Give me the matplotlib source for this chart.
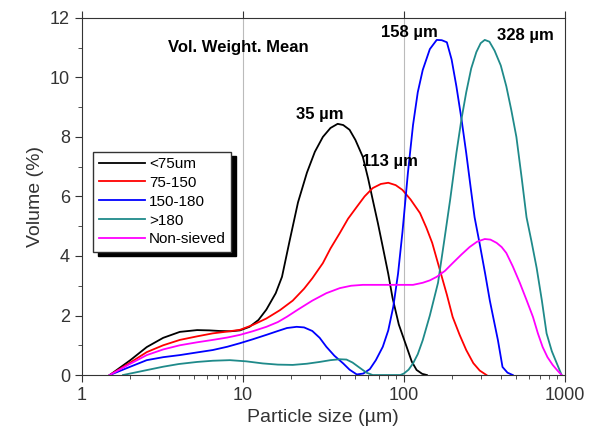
import matplotlib.pyplot as plt
from matplotlib.ticker import LogLocator, NullFormatter, MultipleLocator

plt.rcParams['font.family'] = ['Liberation Sans', 'DejaVu Sans']

# particle size distributions (size in um, volume %)
lt75_x = [1.49, 2.0, 2.53, 3.2, 4.06, 5.2, 6.2, 7.2, 8.4, 9.6, 11.0, 12.5, 14, 16, 17.5, 19.5, 22, 25, 28, 31.4, 35, 38.8, 42, 46, 50, 55.6, 60, 64, 69, 74, 80, 85, 93, 104, 112, 120, 130, 139]
lt75_y = [0, 0.5, 0.94, 1.25, 1.45, 1.51, 1.5, 1.48, 1.47, 1.5, 1.62, 1.85, 2.2, 2.75, 3.3, 4.5, 5.8, 6.8, 7.5, 8.0, 8.3, 8.44, 8.4, 8.24, 7.9, 7.33, 6.6, 5.9, 5.1, 4.3, 3.4, 2.6, 1.7, 0.95, 0.45, 0.17, 0.04, 0]

r75_x = [1.49, 2.0, 2.53, 3.2, 4.06, 5.2, 6.5, 8.0, 9.6, 11.5, 14, 17, 20.4, 24, 27, 31.4, 35, 40, 45, 51, 57, 64, 72, 80, 89, 98, 110, 126, 138, 150, 168, 185, 201, 222, 244, 270, 296, 326]
r75_y = [0, 0.42, 0.77, 1.0, 1.18, 1.3, 1.4, 1.46, 1.52, 1.68, 1.9, 2.18, 2.5, 2.9, 3.25, 3.76, 4.25, 4.77, 5.25, 5.65, 6.0, 6.28, 6.42, 6.46, 6.38, 6.22, 5.9, 5.44, 4.95, 4.44, 3.5, 2.7, 1.95, 1.35, 0.84, 0.4, 0.15, 0]

r150_x = [1.49, 2.0, 2.53, 3.2, 4.06, 5.2, 6.5, 8.0, 9.6, 11.5, 14, 16.5, 18.8, 21.6, 24, 27, 30, 33, 37, 42, 46, 51, 56, 61.5, 67, 74, 80, 86, 92, 98, 106, 114, 122, 131, 145, 160, 172, 185, 198, 212, 228, 244, 260, 275, 296, 320, 342, 365, 384, 410, 440, 475]
r150_y = [0, 0.28, 0.5, 0.6, 0.67, 0.76, 0.84, 0.95, 1.07, 1.2, 1.35, 1.48, 1.58, 1.62, 1.6, 1.48, 1.25, 0.95, 0.65, 0.39, 0.18, 0.02, 0.05, 0.2, 0.5, 0.95, 1.5, 2.3, 3.4, 4.8, 6.8, 8.4, 9.5, 10.25, 10.95, 11.26, 11.25, 11.18, 10.6, 9.7, 8.6, 7.46, 6.3, 5.3, 4.4, 3.4, 2.5, 1.75, 1.17, 0.27, 0.08, 0]

gt180_x = [1.8, 2.4, 3.2, 4.0, 5.2, 6.5, 8.3, 10.5, 13.3, 16.5, 20.4, 25, 30, 35, 40, 44, 48, 53, 58.6, 64, 80, 95, 100, 107, 114, 122, 131, 145, 163, 178, 194, 212, 228, 244, 262, 282, 300, 318, 340, 366, 400, 433, 465, 500, 540, 578, 620, 668, 720, 770, 830, 890, 955]
gt180_y = [0, 0.14, 0.28, 0.37, 0.44, 0.48, 0.5, 0.46, 0.39, 0.35, 0.34, 0.38, 0.44, 0.5, 0.53, 0.52, 0.42, 0.25, 0.08, 0, 0, 0, 0.05, 0.18, 0.39, 0.7, 1.17, 2.0, 3.1, 4.5, 5.9, 7.46, 8.6, 9.5, 10.3, 10.85, 11.15, 11.26, 11.2, 10.9, 10.4, 9.7, 8.9, 8.0, 6.6, 5.3, 4.5, 3.6, 2.5, 1.4, 0.8, 0.4, 0]

nons_x = [1.49, 2.0, 2.53, 3.2, 4.06, 5.2, 6.5, 8.0, 9.6, 11.5, 14, 16.5, 18.8, 22, 27, 33, 40, 47, 55.6, 71, 90, 114, 131, 145, 160, 180, 201, 228, 256, 285, 318, 345, 377, 405, 433, 475, 525, 580, 634, 680, 728, 780, 840, 900, 955]
nons_y = [0, 0.38, 0.67, 0.86, 1.0, 1.1, 1.18, 1.26, 1.35, 1.47, 1.62, 1.78, 1.96, 2.2, 2.5, 2.75, 2.92, 3.0, 3.03, 3.03, 3.03, 3.03, 3.1, 3.18, 3.3, 3.5, 3.76, 4.05, 4.3, 4.48, 4.57, 4.55, 4.44, 4.3, 4.1, 3.65, 3.1, 2.5, 1.95, 1.4, 0.94, 0.6, 0.34, 0.15, 0]

labels = ['<75um', '75-150', '150-180', '>180', 'Non-sieved']
colors = ['black', 'red', 'blue', '#1f8a8a', 'magenta']

fig = plt.figure(figsize=(5.89, 4.47), dpi=100)
ax = fig.add_axes([0.139, 0.161, 0.820, 0.799])

series = [(lt75_x, lt75_y), (r75_x, r75_y), (r150_x, r150_y), (gt180_x, gt180_y), (nons_x, nons_y)]
for (x, y), lab, c in zip(series, labels, colors):
  ax.plot(x, y, color=c, lw=1.3, label=lab)

ax.set_xscale('log')
ax.set_xlim(1, 1000)
ax.set_ylim(0, 12)
ax.set_xticks([1, 10, 100, 1000])
ax.set_xticklabels(['1', '10', '100', '1000'])
ax.xaxis.set_minor_locator(LogLocator(base=10, subs=range(2, 10)))
ax.xaxis.set_minor_formatter(NullFormatter())
ax.yaxis.set_major_locator(MultipleLocator(2))
ax.yaxis.set_minor_locator(MultipleLocator(1))
ax.tick_params(which='both', direction='out', labelsize=13, colors='#333333')
ax.tick_params(which='major', length=5)
ax.tick_params(which='minor', length=3)
ax.tick_params(axis='x', which='major', top=True)
for v in [10, 100]:
  ax.axvline(v, color='#bbbbbb', lw=0.8, zorder=0)
for s in ax.spines.values():
  s.set_color('#333333')

ax.set_xlabel('Particle size (\u00b5m)', fontsize=14, color='#333333')
ax.set_ylabel('Volume (%)', fontsize=14, color='#333333')

ax.text(3.42, 11.0, 'Vol. Weight. Mean', fontsize=12, fontweight='bold', va='center')
ax.text(30, 8.74, '35 \u00b5m', fontsize=12, fontweight='bold', va='center', ha='center')
ax.text(54.8, 7.16, '113 \u00b5m', fontsize=12, fontweight='bold', va='center')
ax.text(72, 11.5, '158 \u00b5m', fontsize=12, fontweight='bold', va='center')
ax.text(378, 11.4, '328 \u00b5m', fontsize=12, fontweight='bold', va='center')

leg = ax.legend(loc='upper left', bbox_to_anchor=(0.008, 0.647), fontsize=11,
                fancybox=False, shadow={'color': 'black', 'alpha': 1, 'ox': 3, 'oy': -3},
                framealpha=1, edgecolor='#333333',
                handlelength=3.0, borderpad=0.35, labelspacing=0.32, handletextpad=0.3)

fig.savefig('out.png', dpi=100)
